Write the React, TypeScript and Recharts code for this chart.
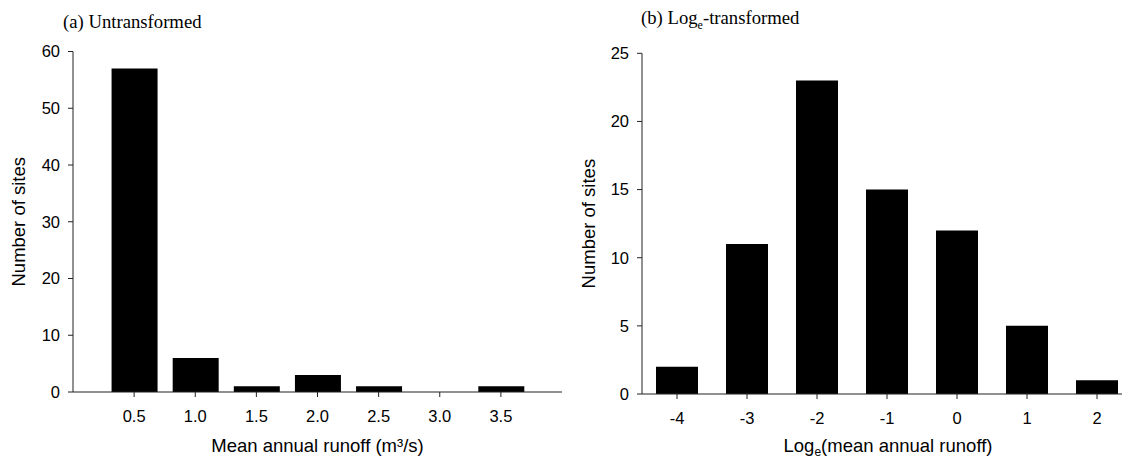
import React from 'react';
import { BarChart, Bar, XAxis, YAxis } from 'recharts';

// (a) untransformed runoff histogram
const runoffBins = [0.5, 1.0, 1.5, 2.0, 2.5, 3.0, 3.5];
const runoffCounts = [57, 6, 1, 3, 1, 0, 1];
const runoffTicks = [0.5, 1.0, 1.5, 2.0, 2.5, 3.0, 3.5];
const leftYTicks = [0, 10, 20, 30, 40, 50, 60];

// (b) log-transformed runoff histogram
const logBins = ['-4', '-3', '-2', '-1', '0', '1', '2'];
const logCounts = [2, 11, 23, 15, 12, 5, 1];
const rightYTicks = [0, 5, 10, 15, 20, 25];

const sans = '"Liberation Sans", Arial, sans-serif';
const serif = '"Liberation Serif", "Times New Roman", serif';
const axisColor = '#222';

const leftData = runoffBins.map((bin, i) => ({ bin, count: runoffCounts[i] }));
const rightData = logBins.map((bin, i) => ({ bin, count: logCounts[i] }));

const tickStyle = { fontFamily: sans, fontSize: 16.5, fill: '#000' };
const titleFont = { fontFamily: sans, fontSize: 18.5, fill: '#000' };

const YTitle = ({ viewBox }: any) => {
  const x = viewBox.x + 25;
  const y = viewBox.y + viewBox.height / 2;
  return (
    <text x={x} y={y} transform={`rotate(-90 ${x} ${y})`} textAnchor="middle" style={titleFont}>
      Number of sites
    </text>
  );
};

const RunoffTitle = ({ viewBox }: any) => (
  <text x={viewBox.x + viewBox.width / 2} y={viewBox.y + 60} textAnchor="middle" style={titleFont}>
    Mean annual runoff (m³/s)
  </text>
);

const LogTitle = ({ viewBox }: any) => (
  <text x={viewBox.x + 246} y={viewBox.y + 58} textAnchor="middle" style={titleFont}>
    Log<tspan fontSize={12} dy={4}>e</tspan><tspan dy={-4}>(mean annual runoff)</tspan>
  </text>
);

export default function App() {
  return (
    <div style={{ position: 'absolute', left: 0, top: 0, width: 1122, height: 462, overflow: 'hidden', background: '#fff' }}>
      <div style={{ position: 'absolute', left: 63, top: 11, fontFamily: serif, fontSize: 18.7, color: '#000', whiteSpace: 'nowrap' }}>
        (a) Untransformed
      </div>
      <div style={{ position: 'absolute', left: 641, top: 7, fontFamily: serif, fontSize: 18.7, color: '#000', whiteSpace: 'nowrap' }}>
        (b) Log<sub style={{ fontSize: 12 }}>e</sub>-transformed
      </div>

      <div style={{ position: 'absolute', left: 0, top: 0 }}>
        <BarChart width={570} height={462} data={leftData}
          margin={{ top: 51.5, right: 8, bottom: 0, left: 0 }}>
          <XAxis dataKey="bin" type="number" domain={[0, 4]} ticks={runoffTicks}
            tickFormatter={(v: number) => v.toFixed(1)} height={70}
            stroke={axisColor} tickSize={5} tickMargin={13} tick={tickStyle}
            allowDataOverflow label={<RunoffTitle />} />
          <YAxis domain={[0, 60]} ticks={leftYTicks} width={73} stroke={axisColor}
            tickSize={5} tickMargin={8} tick={tickStyle} interval={0}
            label={<YTitle />} />
          <Bar dataKey="count" fill="#000" barSize={46} isAnimationActive={false} />
        </BarChart>
      </div>

      <div style={{ position: 'absolute', left: 570, top: 0 }}>
        <BarChart width={570} height={462} data={rightData}
          margin={{ top: 53.3, right: 8, bottom: 0, left: 0 }}>
          <XAxis dataKey="bin" height={68} stroke={axisColor} tickSize={5} tickMargin={13}
            tick={tickStyle} interval={0} label={<LogTitle />} />
          <YAxis domain={[0, 25]} ticks={rightYTicks} width={72} stroke={axisColor}
            tickSize={5} tickMargin={8} tick={tickStyle} interval={0}
            label={<YTitle />} />
          <Bar dataKey="count" fill="#000" barSize={42} isAnimationActive={false} />
        </BarChart>
      </div>
    </div>
  );
}
